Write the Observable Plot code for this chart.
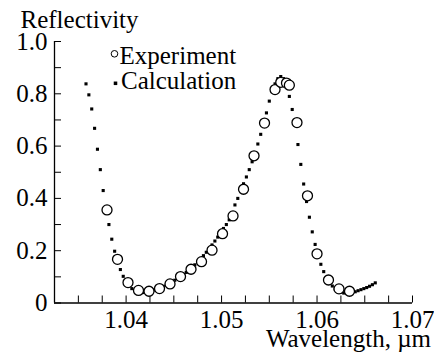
<!DOCTYPE html>
<html><head><meta charset="utf-8">
<script src="https://cdn.jsdelivr.net/npm/d3@7"></script>
<script src="https://cdn.jsdelivr.net/npm/@observablehq/plot@0.6"></script>
<style>html,body{margin:0;padding:0;background:#fff;}</style>
</head><body><div id="chart"></div>
<script>
const expWavelength = [1.0380, 1.0391, 1.0402, 1.0413, 1.0424, 1.0435, 1.0446, 1.0457, 1.0468, 1.0479, 1.0490, 1.0501, 1.0512, 1.0523, 1.0534, 1.0545, 1.0556, 1.0562, 1.0568, 1.0571, 1.0579, 1.0590, 1.0600, 1.0612, 1.0623, 1.0634];
const expReflectivity = [0.356, 0.167, 0.078, 0.048, 0.045, 0.055, 0.073, 0.101, 0.129, 0.158, 0.202, 0.265, 0.333, 0.435, 0.563, 0.688, 0.816, 0.844, 0.841, 0.833, 0.690, 0.410, 0.188, 0.088, 0.054, 0.045];

const calcWavelength = [1.0358, 1.0361, 1.0364, 1.0367, 1.0370, 1.0373, 1.0376, 1.0379, 1.0382, 1.0385, 1.0388, 1.0391, 1.0394, 1.0397, 1.0400, 1.0403, 1.0406, 1.0409, 1.0412, 1.0415, 1.0418, 1.0421, 1.0424, 1.0427, 1.0430, 1.0433, 1.0436, 1.0439, 1.0442, 1.0445, 1.0448, 1.0451, 1.0454, 1.0457, 1.0460, 1.0463, 1.0466, 1.0469, 1.0472, 1.0475, 1.0478, 1.0481, 1.0484, 1.0487, 1.0490, 1.0493, 1.0496, 1.0499, 1.0502, 1.0505, 1.0508, 1.0511, 1.0514, 1.0517, 1.0520, 1.0523, 1.0526, 1.0529, 1.0532, 1.0535, 1.0538, 1.0541, 1.0544, 1.0547, 1.0550, 1.0553, 1.0556, 1.0559, 1.0562, 1.0565, 1.0568, 1.0571, 1.0574, 1.0577, 1.0580, 1.0583, 1.0586, 1.0589, 1.0592, 1.0595, 1.0598, 1.0601, 1.0604, 1.0607, 1.0610, 1.0613, 1.0616, 1.0619, 1.0622, 1.0625, 1.0628, 1.0631, 1.0634, 1.0637, 1.0640, 1.0643, 1.0646, 1.0649, 1.0652, 1.0655, 1.0658, 1.0661];
const calcReflectivity = [0.838, 0.796, 0.742, 0.668, 0.588, 0.510, 0.430, 0.362, 0.300, 0.244, 0.198, 0.160, 0.128, 0.102, 0.082, 0.066, 0.055, 0.048, 0.043, 0.040, 0.040, 0.041, 0.043, 0.046, 0.050, 0.054, 0.058, 0.063, 0.068, 0.074, 0.080, 0.087, 0.094, 0.101, 0.109, 0.117, 0.126, 0.136, 0.146, 0.157, 0.168, 0.181, 0.194, 0.208, 0.222, 0.237, 0.252, 0.268, 0.285, 0.300, 0.318, 0.340, 0.375, 0.400, 0.430, 0.456, 0.482, 0.510, 0.540, 0.572, 0.608, 0.645, 0.684, 0.727, 0.772, 0.808, 0.838, 0.858, 0.866, 0.858, 0.832, 0.790, 0.740, 0.680, 0.606, 0.530, 0.455, 0.388, 0.328, 0.272, 0.224, 0.182, 0.148, 0.120, 0.098, 0.080, 0.065, 0.054, 0.046, 0.041, 0.038, 0.037, 0.038, 0.040, 0.043, 0.047, 0.051, 0.055, 0.059, 0.064, 0.070, 0.077];

const xDomain = [1.0325, 1.07];
const yDomain = [0, 1];
const xMinorTicks = [1.035, 1.0375, 1.04, 1.0425, 1.045, 1.0475, 1.05, 1.0525, 1.055, 1.0575, 1.06, 1.0625, 1.065, 1.0675, 1.07];
const xMajorTicks = [1.04, 1.05, 1.06, 1.07];
const yMinorTicks = [0, 0.1, 0.2, 0.3, 0.4, 0.5, 0.6, 0.7, 0.8, 0.9, 1.0];
const yMajorTicks = [0, 0.2, 0.4, 0.6, 0.8, 1.0];
const legendLabels = ["Experiment", "Calculation"];
const yTitle = "Reflectivity";
const xTitle = "Wavelength, µm";

const exp = expWavelength.map((w, i) => ({w, r: expReflectivity[i]}));
const calc = calcWavelength.map((w, i) => ({w, r: calcReflectivity[i]}));

const chart = Plot.plot({
  width: 434, height: 358,
  marginLeft: 54, marginRight: 22, marginTop: 41, marginBottom: 55.5,
  x: {domain: xDomain},
  y: {domain: yDomain},
  style: {fontFamily: "'Liberation Serif', 'Times New Roman', serif", fontSize: "25px", color: "#000", background: "#fff", overflow: "visible"},
  marks: [
    Plot.ruleY([yDomain[0]], {stroke: "#000", strokeWidth: 1.3}),
    Plot.ruleX([xDomain[0]], {y1: yDomain[0], y2: yDomain[1], stroke: "#000", strokeWidth: 1.3}),
    Plot.axisX({ticks: xMinorTicks, tickSize: 7, dy: -7, tickFormat: () => "", label: null}),
    Plot.axisX({ticks: xMajorTicks, tickSize: 0, tickPadding: 7.5, tickFormat: d => d.toFixed(2), label: null}),
    Plot.axisY({ticks: yMinorTicks, tickSize: 7, dx: 7, tickFormat: () => "", label: null}),
    Plot.axisY({ticks: yMajorTicks, tickSize: 0, tickPadding: 7, tickFormat: d => d === 0 ? "0" : d.toFixed(1), label: null}),
    Plot.dot(calc, {x: "w", y: "r", symbol: "square", r: 1.75, fill: "#000", stroke: null}),
    Plot.dot(exp, {x: "w", y: "r", r: 5, fill: "#fff", stroke: "#000", strokeWidth: 1.3}),
    Plot.dot([legendLabels[0]], {frameAnchor: "top-left", dx: 60, dy: 12.3, r: 3.3, fill: "#fff", stroke: "#000", strokeWidth: 1}),
    Plot.dot([legendLabels[1]], {frameAnchor: "top-left", dx: 61, dy: 41.8, symbol: "square", r: 2, fill: "#000", stroke: null}),
    Plot.text([legendLabels[0]], {frameAnchor: "top-left", lineAnchor: "middle", text: d => d, textAnchor: "start", dx: 65, dy: 14.3}),
    Plot.text([legendLabels[1]], {frameAnchor: "top-left", lineAnchor: "middle", text: d => d, textAnchor: "start", dx: 66.5, dy: 39.3}),
    Plot.text([yTitle], {frameAnchor: "top-left", lineAnchor: "middle", text: d => d, textAnchor: "start", dx: -34, dy: -22}),
    Plot.text([xTitle], {frameAnchor: "bottom-right", lineAnchor: "middle", text: d => d, textAnchor: "end", dx: 18.5, dy: 36})
  ]
});
document.getElementById("chart").appendChild(chart);
</script>
</body></html>
